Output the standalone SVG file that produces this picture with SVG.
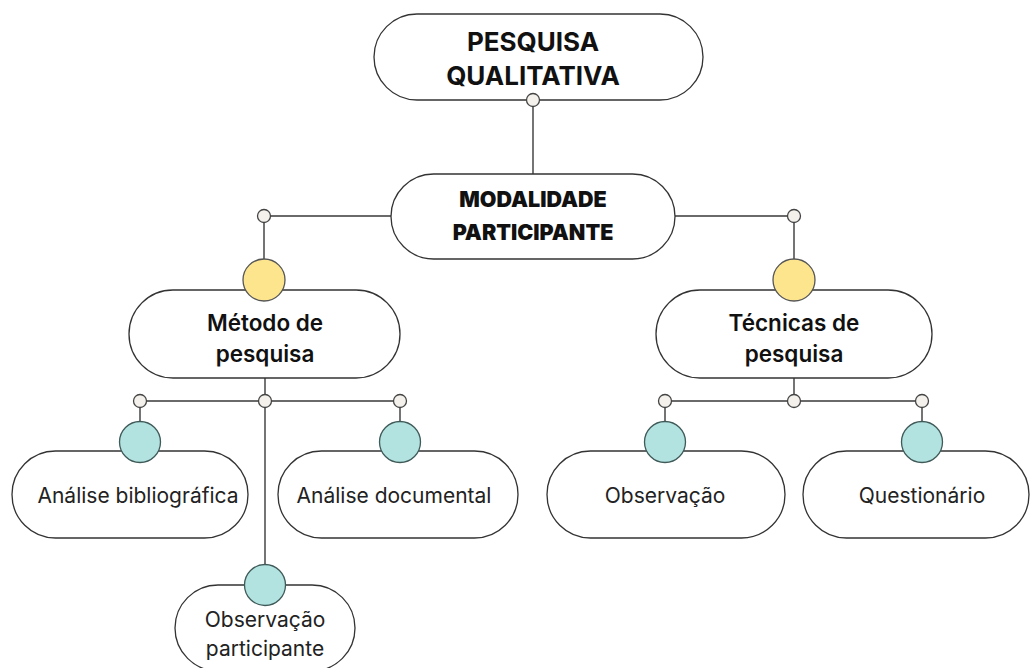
<svg xmlns="http://www.w3.org/2000/svg" width="1030" height="668" viewBox="0 0 1030 668">
<style>
.pill{fill:#ffffff;stroke:#333333;stroke-width:1.3}
.ln{stroke:#3a3a3a;stroke-width:1.4;fill:none}
.dot{fill:#f4f1ec;stroke:#444444;stroke-width:1.3}
.yel{fill:#fde58e;stroke:#555555;stroke-width:1.3}
.teal{fill:#b2e3e1;stroke:#3f5a58;stroke-width:1.3}
.t1{font-family:Inter,"Liberation Sans",sans-serif;font-weight:700;font-size:26px;fill:#111;text-anchor:middle}
.t2{font-family:Inter,"Liberation Sans",sans-serif;font-weight:900;font-size:21.5px;fill:#111;text-anchor:middle}
.t3{font-family:Inter,"Liberation Sans",sans-serif;font-weight:600;font-size:22.5px;fill:#111;text-anchor:middle}
.t4{font-family:Inter,"Liberation Sans",sans-serif;font-weight:400;font-size:21px;fill:#222;text-anchor:middle}
</style>
<rect width="1030" height="668" fill="#ffffff"/>
<g id="connectors">
<line class="ln" x1="533" y1="100" x2="533" y2="174"/>
<polyline class="ln" points="391,216 264,216 264,260"/>
<polyline class="ln" points="675,216 794,216 794,260"/>
<line class="ln" x1="265" y1="378" x2="265" y2="565"/>
<polyline class="ln" points="140,422 140,401 400,401 400,422"/>
<line class="ln" x1="794" y1="378" x2="794" y2="401"/>
<polyline class="ln" points="665,422 665,401 922,401 922,422"/>
</g>
<g id="n-pesquisa">
<rect class="pill" x="374" y="14" width="329" height="86" rx="43"/>
<text class="t1" x="533" y="51">PESQUISA</text>
<text class="t1" x="533" y="85">QUALITATIVA</text>
<circle class="dot" cx="533" cy="100" r="6.5"/>
</g>
<g id="n-modalidade">
<rect class="pill" x="391" y="174" width="284" height="85" rx="42.5"/>
<text class="t2" x="533" y="207">MODALIDADE</text>
<text class="t2" x="533" y="240">PARTICIPANTE</text>
<circle class="dot" cx="264" cy="216" r="6.5"/>
<circle class="dot" cx="794" cy="216" r="6.5"/>
</g>
<g id="n-metodo">
<rect class="pill" x="129" y="290" width="271" height="88" rx="44"/>
<circle class="yel" cx="264" cy="280" r="21"/>
<text class="t3" x="265" y="331">Método de</text>
<text class="t3" x="265" y="362">pesquisa</text>
<circle class="dot" cx="140" cy="401" r="6.5"/>
<circle class="dot" cx="265" cy="401" r="6.5"/>
<circle class="dot" cx="400" cy="401" r="6.5"/>
</g>
<g id="n-tecnicas">
<rect class="pill" x="656" y="290" width="276" height="88" rx="44"/>
<circle class="yel" cx="794" cy="280" r="21"/>
<text class="t3" x="794" y="331">Técnicas de</text>
<text class="t3" x="794" y="362">pesquisa</text>
<circle class="dot" cx="665" cy="401" r="6.5"/>
<circle class="dot" cx="794" cy="401" r="6.5"/>
<circle class="dot" cx="922" cy="401" r="6.5"/>
</g>
<g id="n-bibliografica">
<rect class="pill" x="12" y="451" width="236" height="87" rx="43.5"/>
<circle class="teal" cx="140" cy="442" r="20.5"/>
<text class="t4" x="138" y="503">Análise bibliográfica</text>
</g>
<g id="n-documental">
<rect class="pill" x="278" y="451" width="240" height="87" rx="43.5"/>
<circle class="teal" cx="400" cy="442" r="20.5"/>
<text class="t4" x="394" y="503">Análise documental</text>
</g>
<g id="n-obs-participante">
<rect class="pill" x="175" y="585" width="180" height="86" rx="43"/>
<circle class="teal" cx="265" cy="585" r="20.5"/>
<text class="t4" x="265" y="627">Observação</text>
<text class="t4" x="265" y="656">participante</text>
</g>
<g id="n-observacao">
<rect class="pill" x="547" y="451" width="238" height="87" rx="43.5"/>
<circle class="teal" cx="665" cy="442" r="20.5"/>
<text class="t4" x="665" y="503">Observação</text>
</g>
<g id="n-questionario">
<rect class="pill" x="803" y="451" width="226" height="87" rx="43.5"/>
<circle class="teal" cx="922" cy="442" r="20.5"/>
<text class="t4" x="922" y="503">Questionário</text>
</g>
</svg>
